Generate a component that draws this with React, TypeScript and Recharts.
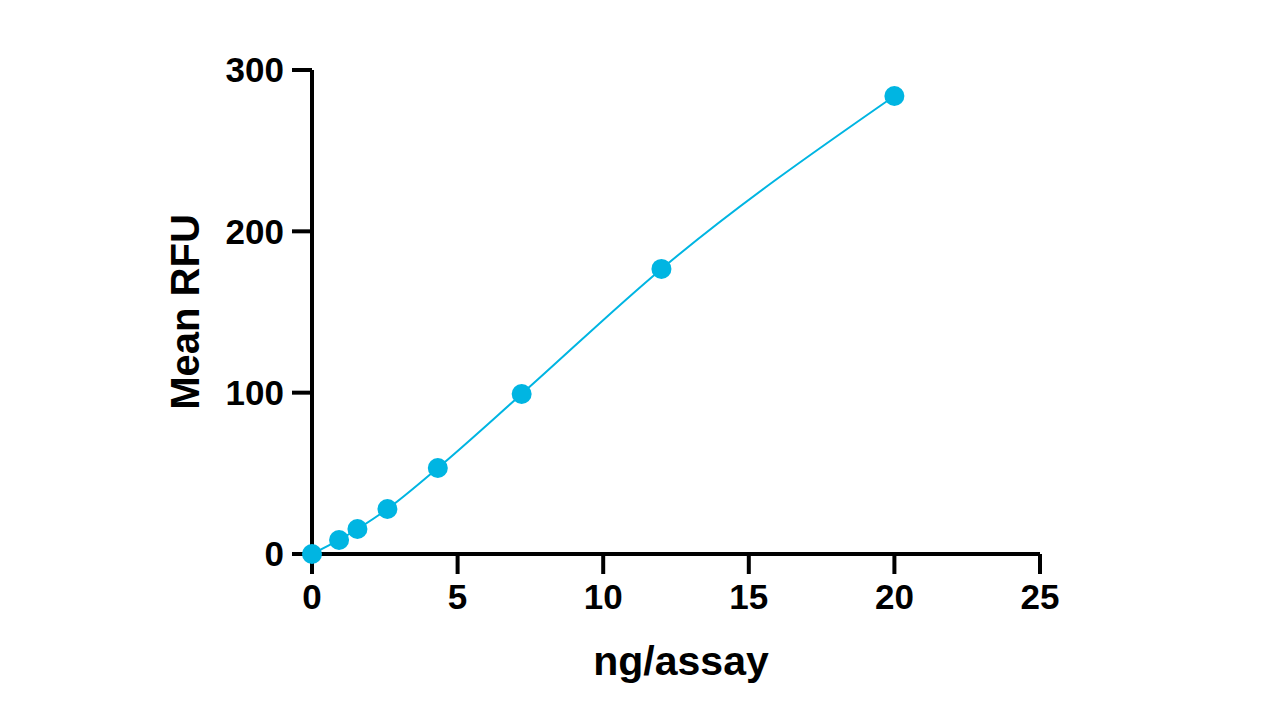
import React from "react";
import { ComposedChart, Line, XAxis, YAxis, Label } from "recharts";

const ngPerAssay = [0, 0.93, 1.56, 2.59, 4.32, 7.2, 12, 20];
const meanRFU = [0, 8.7, 15.5, 27.9, 53.3, 99.2, 176.7, 283.9];
const xTicks = [0, 5, 10, 15, 20, 25];
const yTicks = [0, 100, 200, 300];

const data = ngPerAssay.map((x, i) => ({ x, y: meanRFU[i] }));

const COLOR = "#00b5e2";
const FONT = "'Liberation Sans', Arial, sans-serif";

export default function App() {
  return (
    <div style={{ position: "absolute", left: 0, top: 0, width: 1280, height: 720, background: "#fff" }}>
      <ComposedChart
        width={1280}
        height={720}
        data={data}
        margin={{ top: 70, right: 240, bottom: 45, left: 58 }}
      >
        <XAxis
          dataKey="x"
          type="number"
          domain={[0, 25]}
          ticks={xTicks}
          stroke="#000"
          axisLine={{ stroke: "#000", strokeWidth: 4 }}
          tickLine={{ stroke: "#000", strokeWidth: 4 }}
          tickSize={20}
          tickMargin={10}
          tick={{ fill: "#000", fontSize: 35, fontWeight: 700, fontFamily: FONT }}
          height={121}
        >
          <Label
            value="ng/assay"
            position="insideBottom"
            offset={0}
            dx={5}
            style={{ fill: "#000", fontSize: 41, fontWeight: 700, fontFamily: FONT }}
          />
        </XAxis>
        <YAxis
          dataKey="y"
          type="number"
          domain={[0, 300]}
          ticks={yTicks}
          stroke="#000"
          axisLine={{ stroke: "#000", strokeWidth: 4 }}
          tickLine={{ stroke: "#000", strokeWidth: 4 }}
          tickSize={20}
          tickMargin={8}
          tick={{ fill: "#000", fontSize: 35, fontWeight: 700, fontFamily: FONT }}
          width={254}
        >
          <Label
            value="Mean RFU"
            angle={-90}
            position="center"
            style={{ fill: "#000", fontSize: 40, fontWeight: 700, fontFamily: FONT, textAnchor: "middle" }}
          />
        </YAxis>
        <Line
          type="monotone"
          dataKey="y"
          stroke={COLOR}
          strokeWidth={2}
          dot={{ r: 10, fill: COLOR, stroke: COLOR, strokeWidth: 0 }}
          activeDot={false}
          isAnimationActive={false}
        />
      </ComposedChart>
    </div>
  );
}
